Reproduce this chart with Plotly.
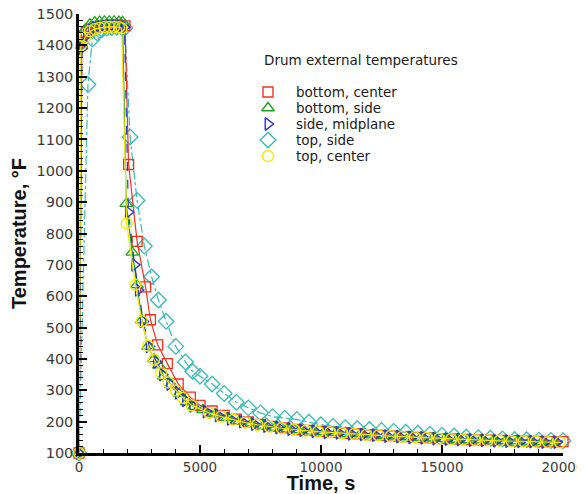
import plotly.graph_objects as go

# ---------------- data ----------------
red_t = [0, 120, 300, 500, 700, 900, 1100, 1300, 1500, 1700, 1900, 2050, 2400, 2750, 2950, 3250, 3650, 4100, 4600,
         5000, 5500, 6000, 6500, 7000, 7500, 8000, 8500, 9000, 9500, 10000, 10500, 11000, 11500, 12000, 12500,
         13000, 13500, 14000, 14500, 15000, 15500, 16000, 16500, 17000, 17500, 18000, 18500, 19000, 19500, 20000]
red_T = [100, 1410, 1440, 1452, 1458, 1462, 1464, 1465, 1465, 1464, 1462, 1020, 775, 630, 525, 445, 385, 320, 278,
         252, 234, 220, 208, 199, 191, 185, 180, 175, 172, 169, 166, 163, 161, 158, 156,
         154, 152, 150, 148, 146, 145, 143, 142, 141, 140, 139, 138, 137, 136, 136]

green_t = [0, 100, 250, 450, 650, 850, 1050, 1250, 1450, 1650, 1800, 1950, 2200, 2400, 2600, 2850, 3100, 3300, 3500,
           3800, 4150, 4450, 4750, 5125, 5625, 6125, 6625, 7125, 7625, 8125, 8625, 9125, 9625, 10125, 10625,
           11125, 11625, 12125, 12625, 13125, 13625, 14125, 14625, 15125, 15625, 16125, 16625, 17125, 17625,
           18125, 18625, 19125, 19625]
green_T = [100, 1400, 1450, 1468, 1474, 1476, 1477, 1477, 1477, 1476, 1475, 895, 740, 636, 524, 440, 400, 380, 345,
           318, 290, 262, 248, 238, 224, 212, 202, 195, 188, 182, 177, 174, 170, 167, 165,
           162, 160, 157, 155, 153, 151, 149, 147, 145, 143, 142, 141, 140, 139,
           138, 137, 136, 135]

blue_t = [0, 120, 300, 500, 700, 900, 1100, 1300, 1500, 1700, 1880, 2040, 2300, 2450, 2650, 2900, 3200, 3450, 3750,
          4100, 4400, 4700, 5250, 5750, 6250, 6750, 7250, 7750, 8250, 8750, 9250, 9750, 10250, 10750, 11250,
          11750, 12250, 12750, 13250, 13750, 14250, 14750, 15250, 15750, 16250, 16750, 17250, 17750, 18250,
          18750, 19250, 19750]
blue_T = [100, 1390, 1430, 1448, 1455, 1458, 1460, 1461, 1461, 1460, 1458, 868, 700, 620, 520, 440, 390, 350, 320,
          292, 268, 250, 232, 220, 209, 200, 192, 186, 181, 176, 172, 169, 166, 164, 161,
          159, 157, 154, 152, 150, 148, 146, 144, 143, 141, 140, 139, 138, 137,
          136, 135, 135]

cyan_t = [0, 370, 550, 750, 950, 1150, 1350, 1550, 1750, 1900, 2110, 2400, 2700, 3000, 3280, 3600, 4000, 4400, 4700,
          5000, 5500, 6000, 6500, 7000, 7500, 8000, 8500, 9000, 9500, 10000, 10500, 11000, 11500, 12000, 12500,
          13000, 13500, 14000, 14500, 15000, 15500, 16000, 16500, 17000, 17500, 18000, 18500, 19000, 19500, 20000]
cyan_T = [100, 1275, 1420, 1440, 1450, 1455, 1457, 1458, 1458, 1456, 1108, 905, 760, 662, 588, 520, 440, 390, 360,
          345, 320, 290, 262, 244, 228, 216, 211, 207, 198, 190, 185, 181, 178, 175, 172,
          169, 166, 163, 160, 157, 154, 151, 149, 147, 145, 143, 142, 141, 140, 139]

yellow_t = [0, 80, 250, 450, 650, 850, 1050, 1250, 1450, 1650, 1760, 1970, 2330, 2600, 2850, 3100, 3400, 3700, 4000,
            4300, 4650, 5375, 5875, 6375, 6875, 7375, 7875, 8375, 8875, 9375, 9875, 10375, 10875, 11375, 11875,
            12375, 12875, 13375, 13875, 14375, 14875, 15375, 15875, 16375, 16875, 17375, 17875, 18375, 18875,
            19375, 19875]
yellow_T = [100, 1400, 1425, 1445, 1452, 1456, 1458, 1459, 1459, 1458, 1455, 832, 636, 520, 442, 398, 355, 325, 300,
            276, 252, 228, 216, 206, 197, 190, 184, 179, 175, 171, 168, 166, 163, 161, 158,
            156, 154, 152, 150, 148, 146, 144, 143, 141, 140, 139, 138, 137, 136,
            135, 134]

series_names = ["bottom, center", "bottom, side", "side, midplane", "top, side", "top, center"]
legend_title = "Drum external temperatures"
x_ticks = [0, 5000, 10000, 15000, 20000]
y_ticks = [100, 200, 300, 400, 500, 600, 700, 800, 900, 1000, 1100, 1200, 1300, 1400, 1500]

# ---------------- styles ----------------
styles = {
    "bottom, center": dict(color="#f2321e", symbol="square-open", dash="solid", size=10),
    "bottom, side": dict(color="#1ea51e", symbol="triangle-up-open", dash="solid", size=11),
    "side, midplane": dict(color="#2a32c8", symbol="triangle-right-open", dash="dash", size=11),
    "top, side": dict(color="#38bcb4", symbol="diamond-open", dash="dashdot", size=12),
    "top, center": dict(color="#f5ea00", symbol="circle-open", dash="solid", size=11),
}
data = {
    "bottom, center": (red_t, red_T),
    "bottom, side": (green_t, green_T),
    "side, midplane": (blue_t, blue_T),
    "top, side": (cyan_t, cyan_T),
    "top, center": (yellow_t, yellow_T),
}
draw_order = ["top, side", "bottom, center", "bottom, side", "side, midplane", "top, center"]

fig = go.Figure()
for name in draw_order:
    t, T = data[name]
    s = styles[name]
    fig.add_trace(go.Scatter(
        x=t, y=T, mode="lines+markers", name=name, showlegend=False, cliponaxis=False,
        line=dict(color=s["color"], width=1.2, dash=s["dash"]),
        marker=dict(symbol=s["symbol"], size=s["size"], color=s["color"], line=dict(width=1.3, color=s["color"])),
    ))

# custom legend (on an overlay axis spanning the plot area in 0..1 units)
leg_y = [0.8223, 0.7859, 0.7494, 0.7130, 0.6765]
for name, yy in zip(series_names, leg_y):
    s = styles[name]
    fig.add_trace(go.Scatter(
        x=[0.3905], y=[yy], xaxis="x2", yaxis="y2", mode="markers", showlegend=False, hoverinfo="skip",
        cliponaxis=False,
        marker=dict(symbol=s["symbol"], size=s["size"], color=s["color"], line=dict(width=1.4, color=s["color"])),
    ))
    fig.add_annotation(x=0.4442, y=yy, xref="x2", yref="y2", text=name, showarrow=False,
                       xanchor="left", yanchor="middle",
                       font=dict(family="DejaVu Sans", size=13.5, color="#1a1a1a"))
fig.add_annotation(x=0.378, y=0.8952, xref="x2", yref="y2", text=legend_title, showarrow=False,
                   xanchor="left", yanchor="middle",
                   font=dict(family="DejaVu Sans", size=13.5, color="#1a1a1a"))

axis_common = dict(
    showgrid=False, zeroline=False, showline=True, linecolor="black", linewidth=2.5,
    ticks="inside", ticklen=8, tickwidth=2, tickcolor="black",
    mirror=False, automargin=False, ticklabeloverflow="allow",
)
# the page body has an 8px default margin, so the figure is offset by (8, 8)
fig.update_layout(
    width=577, height=486,
    margin=dict(l=71, r=22, t=6, b=41),
    paper_bgcolor="white", plot_bgcolor="white",
    xaxis=dict(range=[0, 20000], tickvals=x_ticks, ticktext=[str(v) for v in x_ticks],
               tickfont=dict(family="DejaVu Sans", size=13.5, color="#3a3a3a"),
               minor=dict(dtick=1000, ticks="inside", ticklen=4, tickwidth=1, tickcolor="black"),
               title=dict(text="<b>Time, s</b>", standoff=4,
                          font=dict(family="Liberation Sans", size=20, color="#111")),
               **axis_common),
    yaxis=dict(range=[100, 1500], tickvals=y_ticks, ticktext=[str(v) for v in y_ticks],
               tickfont=dict(family="DejaVu Sans", size=14.5, color="#3a3a3a"),
               minor=dict(dtick=20, tick0=100, ticks="inside", ticklen=4, tickwidth=1, tickcolor="black"),
               title=dict(text="<b>Temperature, °F</b>", standoff=5,
                          font=dict(family="Liberation Sans", size=20, color="#111")),
               **axis_common),
    xaxis2=dict(overlaying="x", range=[0, 1], visible=False),
    yaxis2=dict(overlaying="y", range=[0, 1], visible=False),
    showlegend=False,
)

fig.write_html("out.html")
